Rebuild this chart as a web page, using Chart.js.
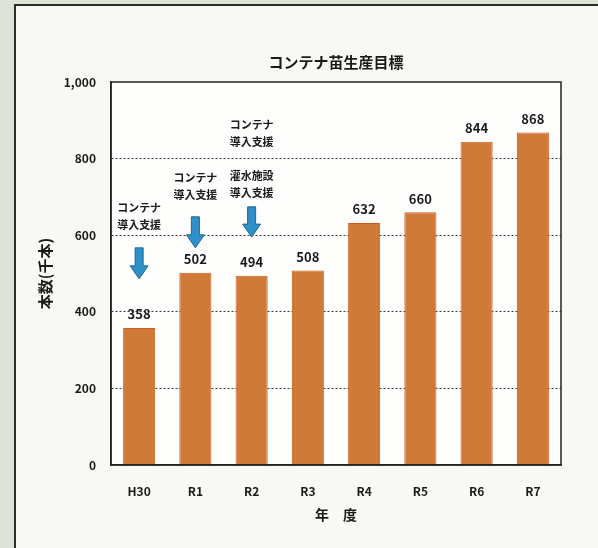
<!DOCTYPE html>
<html lang="ja">
<head>
<meta charset="utf-8">
<script src="https://cdn.jsdelivr.net/npm/chart.js@4.4.1/dist/chart.umd.min.js"></script>
<style>
  html, body { margin: 0; padding: 0; background: #dce2d5; }
  #wrap { position: relative; width: 598px; height: 548px; overflow: hidden; }
  #frame { position: absolute; left: 14px; top: 4px; width: 600px; height: 560px;
           border: 2px solid #2b2b2b; background: #f8f8f4; }
  #myChart { position: absolute; left: 0; top: 0; }
</style>
</head>
<body>
<div id="wrap">
  <div id="frame"></div>
  <canvas id="myChart" width="598" height="548"></canvas>
</div>
<script>
const nendo = ['H30', 'R1', 'R2', 'R3', 'R4', 'R5', 'R6', 'R7'];
const honsu = [358, 502, 494, 508, 632, 660, 844, 868];
const yTicks = [0, 200, 400, 600, 800, 1000];

// 注記（矢印とテキスト）: 位置は縦軸の値で持つ
const chuukiNendo = ['H30', 'R1', 'R2'];
const chuukiText = [
    ['コンテナ', '導入支援'],
    ['コンテナ', '導入支援'],
    ['コンテナ', '導入支援', '', '灌水施設', '導入支援']
];
const chuukiTextTop = [671, 749, 888];
const yajirushiUe = [567, 648, 674];
const yajirushiShita = [486, 567, 595];

const FONT = "'Noto Sans CJK JP', 'Noto Sans', sans-serif";

const extraPlugin = {
    id: 'extra',
    beforeDraw(chart) {
        const { ctx, chartArea } = chart;
        ctx.save();
        ctx.fillStyle = '#fefefc';
        ctx.fillRect(chartArea.left, chartArea.top, chartArea.width, chartArea.height);
        ctx.restore();
    },
    afterDatasetsDraw(chart) {
        const { ctx, chartArea, scales } = chart;
        const x = scales.x, y = scales.y;
        const midX = (chartArea.left + chartArea.right) / 2;
        ctx.save();

        // 枠
        ctx.strokeStyle = '#222';
        ctx.lineWidth = 1.5;
        ctx.strokeRect(chartArea.left, chartArea.top, chartArea.width, chartArea.height);

        // タイトル
        ctx.fillStyle = '#1a1a1a';
        ctx.font = 'bold 15px ' + FONT;
        ctx.textAlign = 'center';
        ctx.textBaseline = 'middle';
        ctx.fillText('コンテナ苗生産目標', midX, chartArea.top - 20);

        // 横軸タイトル
        ctx.font = 'bold 14px ' + FONT;
        ctx.fillText('年　度', midX, chartArea.bottom + 50);

        // 値ラベル
        const meta = chart.getDatasetMeta(0);
        ctx.font = 'bold 13px ' + FONT;
        ctx.textBaseline = 'bottom';
        meta.data.forEach((bar, i) => {
            ctx.fillText(honsu[i], bar.x, bar.y - 7);
        });

        // 注記
        chuukiNendo.forEach((n, i) => {
            const cx = x.getPixelForValue(nendo.indexOf(n));
            ctx.font = 'bold 11px ' + FONT;
            ctx.textBaseline = 'middle';
            ctx.fillStyle = '#1a1a1a';
            let ty = y.getPixelForValue(chuukiTextTop[i]);
            chuukiText[i].forEach(t => {
                if (t) ctx.fillText(t, cx, ty);
                ty += 17;
            });

            const top = y.getPixelForValue(yajirushiUe[i]);
            const bottom = y.getPixelForValue(yajirushiShita[i]);
            const headLen = 13, shaft = 4, head = 9;
            ctx.beginPath();
            ctx.moveTo(cx - shaft, top);
            ctx.lineTo(cx + shaft, top);
            ctx.lineTo(cx + shaft, bottom - headLen);
            ctx.lineTo(cx + head, bottom - headLen);
            ctx.lineTo(cx, bottom);
            ctx.lineTo(cx - head, bottom - headLen);
            ctx.lineTo(cx - shaft, bottom - headLen);
            ctx.closePath();
            ctx.fillStyle = '#2f8fc8';
            ctx.fill();
            ctx.strokeStyle = '#1e6797';
            ctx.lineWidth = 1;
            ctx.stroke();
        });
        ctx.restore();
    }
};

const ctx = document.getElementById('myChart').getContext('2d');
new Chart(ctx, {
    type: 'bar',
    data: {
        labels: nendo,
        datasets: [{
            label: 'コンテナ苗生産目標',
            data: honsu,
            backgroundColor: '#cf7a37',
            borderColor: '#cd5b22',
            borderWidth: 1,
            barPercentage: 0.57,
            categoryPercentage: 1
        }]
    },
    options: {
        responsive: false,
        animation: false,
        layout: {
            padding: { top: 82, right: 37, bottom: 0, left: 0 }
        },
        plugins: {
            legend: { display: false },
            tooltip: { enabled: false },
            title: { display: false }
        },
        scales: {
            x: {
                afterFit(scale) { scale.height = 83; },
                grid: { display: false, drawTicks: false },
                border: { display: true, color: '#222', width: 1.5 },
                ticks: {
                    padding: 19,
                    color: '#1a1a1a',
                    font: { family: FONT, size: 12, weight: 'bold' }
                }
            },
            y: {
                min: 0,
                max: 1000,
                afterFit(scale) { scale.width = 111; },
                afterBuildTicks(scale) { scale.ticks = yTicks.map(v => ({ value: v })); },
                grid: {
                    drawTicks: false,
                    color: c => (c.tick && (c.tick.value === 0 || c.tick.value === 1000)) ? 'rgba(0,0,0,0)' : '#3a3a3a',
                    lineWidth: 1
                },
                border: { display: true, color: '#222', width: 1.5, dash: [2, 2] },
                ticks: {
                    padding: 15,
                    color: '#1a1a1a',
                    font: { family: FONT, size: 12, weight: 'bold' },
                    callback: v => v.toLocaleString('en-US')
                },
                title: {
                    display: true,
                    text: '本数(千本)',
                    color: '#1a1a1a',
                    padding: { top: 36, bottom: 0 },
                    font: { family: FONT, size: 15, weight: 'bold' }
                }
            }
        }
    },
    plugins: [extraPlugin]
});
</script>
</body>
</html>
